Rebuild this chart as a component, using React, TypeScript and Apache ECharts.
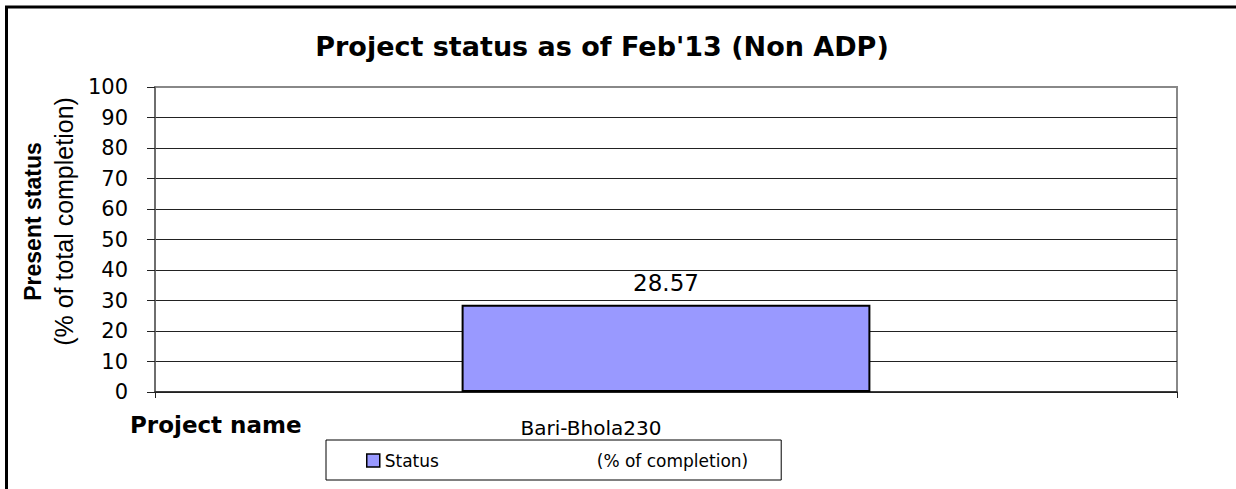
import React, { useEffect, useRef } from "react";
import * as echarts from "echarts";

const chartTitle = "Project status as of Feb'13 (Non ADP)";
const categories = ["Bari-Bhola230"];
const statusValues = [28.57];
const seriesName = "Status";
const legendNote = "(% of completion)";
const yTitleLine1 = "Present status";
const yTitleLine2 = "(% of total completion)";
const xTitle = "Project name";
const yMin = 0;
const yMax = 100;
const yInterval = 10;

export default function App() {
  const ref = useRef<HTMLDivElement>(null);
  useEffect(() => {
    if (!ref.current) return;
    const chart = echarts.init(ref.current, null, { renderer: "svg" });
    const font = "DejaVu Sans";
    const splitColors = [
      "#222", "#222", "#222", "#222", "#222", "#222",
      "#222", "#222", "#222", "#222", "#888",
    ];
    chart.setOption({
      animation: false,
      backgroundColor: "#ffffff",
      title: {
        text: chartTitle,
        left: 602,
        top: 33,
        textAlign: "center",
        padding: 0,
        textStyle: { fontFamily: font, fontWeight: "bold", fontSize: 27, color: "#000" },
      },
      legend: {
        left: 326,
        top: 440,
        orient: "horizontal",
        backgroundColor: "#fff",
        borderColor: "#000",
        borderWidth: 1,
        borderRadius: 0,
        padding: [12, 33, 11, 40],
        itemWidth: 13,
        itemHeight: 13,
        itemGap: 0,
        icon: "rect",
        itemStyle: { borderColor: "#000", borderWidth: 1.5 },
        formatter: (name: string) => `{a|${name}}{b|${legendNote}}`,
        textStyle: {
          fontFamily: font,
          fontSize: 17,
          color: "#000",
          rich: {
            a: { fontFamily: font, fontSize: 17, width: 212, lineHeight: 18 },
            b: { fontFamily: font, fontSize: 17, lineHeight: 18 },
          },
        },
        data: [seriesName],
      },
      grid: {
        left: 155,
        right: 59,
        top: 87,
        bottom: 97,
        containLabel: false,
        outerBoundsMode: "none",
        show: true,
        borderColor: "#888",
        borderWidth: 2,
        backgroundColor: "#fff",
      },
      xAxis: {
        type: "category",
        data: categories,
        axisLine: { show: true, lineStyle: { color: "#222", width: 1.5 } },
        axisTick: { show: true, length: 6, inside: false, lineStyle: { color: "#222" } },
        axisLabel: {
          fontFamily: font,
          fontSize: 20,
          color: "#000",
          margin: 26,
          padding: [0, 150, 0, 0],
        },
        splitLine: { show: false },
      },
      yAxis: {
        type: "value",
        min: yMin,
        max: yMax,
        interval: yInterval,
        name: `{a|${yTitleLine1}}\n{b|${yTitleLine2}}`,
        nameLocation: "middle",
        nameRotate: 90,
        nameGap: 76,
        nameTextStyle: {
          padding: [0, 0, 0, 36],
          rich: {
            a: { fontFamily: "Liberation Sans", fontWeight: "bold", fontSize: 23, lineHeight: 31, color: "#000" },
            b: { fontFamily: "Liberation Sans", fontSize: 25, lineHeight: 31, color: "#000" },
          },
        },
        axisLine: { show: true, lineStyle: { color: "#666", width: 1.5 } },
        axisTick: { show: true, length: 8, lineStyle: { color: "#222" } },
        axisLabel: { fontFamily: font, fontSize: 21, color: "#000", margin: 27 },
        splitLine: { show: true, lineStyle: { color: splitColors, width: 1 } },
      },
      series: [
        {
          name: seriesName,
          type: "bar",
          data: statusValues,
          barWidth: "40%",
          itemStyle: { color: "#9999FF", borderColor: "#000", borderWidth: 2 },
          label: {
            show: true,
            position: "top",
            distance: 10,
            fontFamily: font,
            fontSize: 23,
            color: "#000",
            formatter: (p: any) => Number(p.value).toFixed(2),
          },
        },
      ],
      graphic: [
        {
          type: "text",
          x: 130,
          y: 425,
          style: {
            text: xTitle,
            fontFamily: font,
            fontWeight: "bold",
            fontSize: 23,
            fill: "#000",
            textAlign: "left",
            textVerticalAlign: "middle",
          },
          silent: true,
        },
        {
          type: "rect",
          shape: { x: 6.5, y: 7, width: 1400, height: 700 },
          style: { fill: "none", stroke: "#000", lineWidth: 3 },
          silent: true,
          z: 100,
        },
      ],
    });
    return () => chart.dispose();
  }, []);
  return (
    <div
      ref={ref}
      style={{ position: "fixed", left: 0, top: 0, width: 1236, height: 489 }}
    />
  );
}
